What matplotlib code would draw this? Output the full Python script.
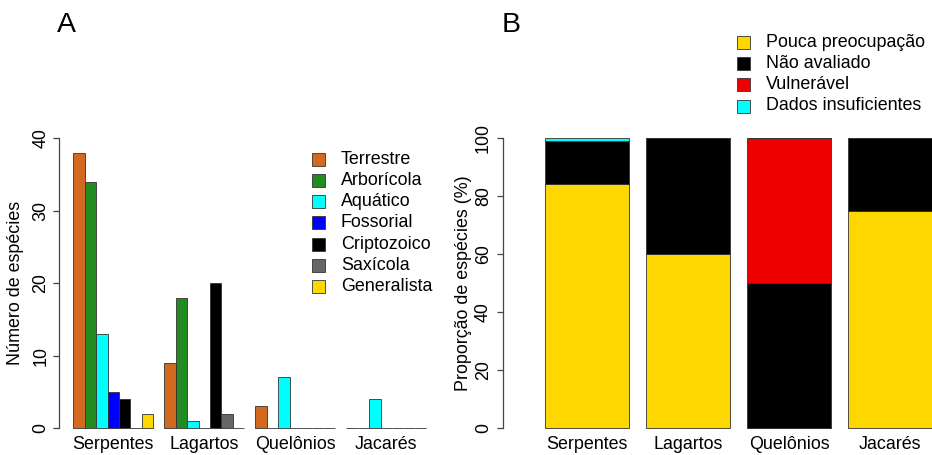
import matplotlib
matplotlib.use("Agg")
import matplotlib.pyplot as plt
from matplotlib.patches import Rectangle

plt.rcParams['font.family'] = ['Liberation Sans', 'DejaVu Sans']

# painel A: número de espécies por hábito
grupos = ["Serpentes", "Lagartos", "Quelônios", "Jacarés"]
habitos = ["Terrestre", "Arborícola", "Aquático", "Fossorial", "Criptozoico", "Saxícola", "Generalista"]
cores_hab = ["#D2691E", "#228B22", "#00FFFF", "#0000FF", "#000000", "#666666", "#FFD700"]
n_terrestre   = [38, 9, 3, 0]
n_arboricola  = [34, 18, 0, 0]
n_aquatico    = [13, 1, 7, 4]
n_fossorial   = [5, 0, 0, 0]
n_criptozoico = [4, 20, 0, 0]
n_saxicola    = [0, 2, 0, 0]
n_generalista = [2, 0, 0, 0]

# painel B: status de conservação (%)
status = ["Pouca preocupação", "Não avaliado", "Vulnerável", "Dados insuficientes"]
cores_st = ["#FFD700", "#000000", "#EE0000", "#00FFFF"]
p_pouca   = [84, 60, 0, 75]
p_nao_av  = [15, 40, 50, 25]
p_vulner  = [0, 0, 50, 0]
p_dados   = [1, 0, 0, 0]

W, H = 932, 455
FS = 12.9
EDGE = "#333333"


def px_axes(fig, left, top, right, bottom):
    return fig.add_axes([left / W, 1 - bottom / H, (right - left) / W, (bottom - top) / H])


def ftext(fig, x, y, s, **kw):
    fig.text(x / W, 1 - y / H, s, **kw)


def style_axis(ax, ymax, step, ypad):
    for sp in ["top", "right", "bottom"]:
        ax.spines[sp].set_visible(False)
    ax.spines["left"].set_bounds(0, ymax)
    ax.spines["left"].set_color("#444444")
    ax.spines["left"].set_linewidth(0.9)
    ax.set_yticks(range(0, ymax + 1, step))
    ax.tick_params(axis="y", length=4.5, width=0.9, color="#444444", pad=ypad, labelsize=FS)
    for lb in ax.get_yticklabels():
        lb.set_rotation(90)
        lb.set_va("center")
    ax.tick_params(axis="x", length=0, pad=-2.5, labelsize=FS)


fig = plt.figure(figsize=(W / 100, H / 100), dpi=100)

# ---- A ----
axA = px_axes(fig, 58.5, 126.4, 441, 439.6)
series = [n_terrestre, n_arboricola, n_aquatico, n_fossorial, n_criptozoico, n_saxicola, n_generalista]
for i, (vals, cor) in enumerate(zip(series, cores_hab)):
    xs = [1 + g * 8 + i for g in range(len(grupos))]
    axA.bar(xs, vals, width=1, align="edge", color=cor, edgecolor=EDGE, linewidth=0.6)
axA.set_xlim(-0.31, 33.31)
axA.set_ylim(-1.6, 41.6)
axA.set_xticks([1 + g * 8 + 3.5 for g in range(len(grupos))])
axA.set_xticklabels(grupos)
style_axis(axA, 40, 10, 2.0)

# ---- B ----
axB = px_axes(fig, 503, 126.4, 932, 439.6)
xb = [0.2 + 1.2 * g for g in range(len(grupos))]
base = [0] * len(grupos)
for vals, cor in zip([p_pouca, p_nao_av, p_vulner, p_dados], cores_st):
    axB.bar(xb, vals, width=1, bottom=base, align="edge", color=cor, edgecolor=EDGE, linewidth=0.6)
    base = [b + v for b, v in zip(base, vals)]
axB.set_xlim(-0.299, 4.796)
axB.set_ylim(-4, 104)
axB.set_xticks([x + 0.5 for x in xb])
axB.set_xticklabels(grupos)
style_axis(axB, 100, 20, 3.5)

# eixos e letras
ftext(fig, 16, 283, "Número de espécies", rotation=90, ha="center", va="center", fontsize=FS)
ftext(fig, 463, 283, "Proporção de espécies (%)", rotation=90, ha="center", va="center", fontsize=FS)
ftext(fig, 57, 32, "A", fontsize=20.5, va="baseline")
ftext(fig, 502, 32, "B", fontsize=20.5, va="baseline")

# legendas
for i, (lab, cor) in enumerate(zip(habitos, cores_hab)):
    yc = 159.3 + 21.2 * i
    fig.patches.append(Rectangle((312 / W, 1 - (yc + 6.5) / H), 13 / W, 13 / H,
                                 transform=fig.transFigure, facecolor=cor, edgecolor=EDGE, linewidth=0.6))
    ftext(fig, 341, yc, lab, va="center", fontsize=FS)

for i, (lab, cor) in enumerate(zip(status, cores_st)):
    yc = 42.7 + 21.1 * i
    fig.patches.append(Rectangle((737 / W, 1 - (yc + 6.5) / H), 13 / W, 13 / H,
                                 transform=fig.transFigure, facecolor=cor, edgecolor=EDGE, linewidth=0.6))
    ftext(fig, 766, yc, lab, va="center", fontsize=FS)

fig.savefig("out.png", dpi=100)
